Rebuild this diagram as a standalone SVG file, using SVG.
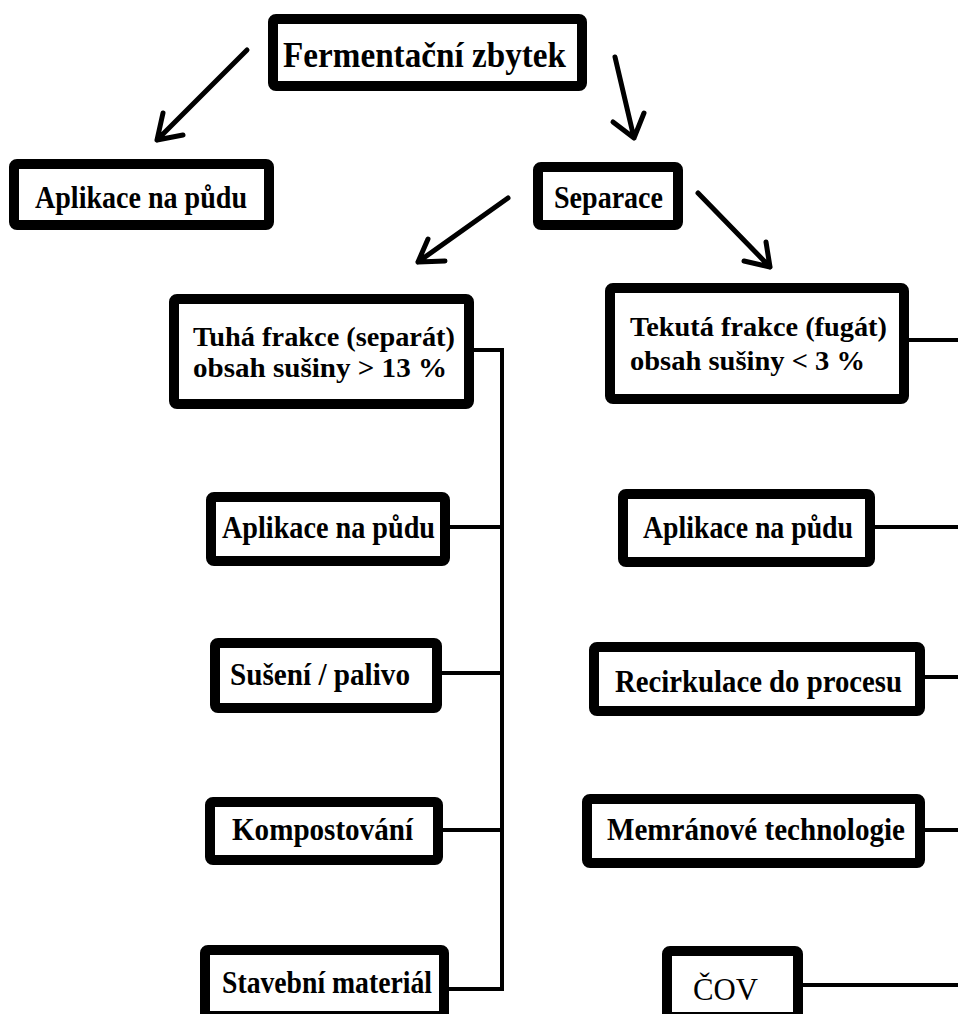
<svg xmlns="http://www.w3.org/2000/svg" width="958" height="1014" viewBox="0 0 958 1014">
<style>
.box{fill:#fff;stroke:#000;stroke-width:10;}
.t{font-family:"Liberation Serif","Times New Roman",serif;font-weight:bold;font-size:32px;fill:#000;}
.big{font-size:36px;}
.two{font-size:28px;}
.reg{font-weight:normal;font-size:32px;}
.arr{fill:none;stroke:#000;stroke-width:5;stroke-linecap:round;stroke-linejoin:round;}
.con{fill:none;stroke:#000;stroke-width:4;}
</style>
<rect width="958" height="1014" fill="#fff"/>
<g id="connectors">
<path class="arr" d="M247 50 L157 140 M163 113 L157 140 L183 135"/>
<path class="arr" d="M615 57 L634 138 M613 122 L634 138 L644 113"/>
<path class="arr" d="M508 198 L418 262 M428 239 L418 262 L445 261"/>
<path class="arr" d="M698 193 L770 267 M766 242 L770 267 L744 261"/>
<path class="con" d="M474 350 H502 V989 H449 M450 527 H502 M442 673 H502 M443 830 H502"/>
<path class="con" d="M909 340 H958 M875 527 H958 M925 677 H958 M925 830 H958 M803 985 H958"/>
</g>
<g id="n-fermentacni">
<rect class="box" x="273" y="19" width="309" height="67" rx="3"/>
<text class="t big" x="283" y="67" textLength="283" lengthAdjust="spacingAndGlyphs">Fermentační zbytek</text>
</g>
<g id="n-aplikace-top">
<rect class="box" x="14" y="164" width="255" height="61" rx="3"/>
<text class="t" x="35" y="208" textLength="212" lengthAdjust="spacingAndGlyphs">Aplikace na půdu</text>
</g>
<g id="n-separace">
<rect class="box" x="538" y="167" width="140" height="58" rx="3"/>
<text class="t" x="554" y="208" textLength="109" lengthAdjust="spacingAndGlyphs">Separace</text>
</g>
<g id="n-tuha">
<rect class="box" x="174" y="299" width="295" height="105" rx="3"/>
<text class="t two" x="193" y="346" textLength="262" lengthAdjust="spacingAndGlyphs">Tuhá frakce (separát)</text>
<text class="t two" x="193" y="377" textLength="254" lengthAdjust="spacingAndGlyphs">obsah sušiny &gt; 13 %</text>
</g>
<g id="n-tekuta">
<rect class="box" x="610" y="288" width="294" height="111" rx="3"/>
<text class="t two" x="630" y="336" textLength="257" lengthAdjust="spacingAndGlyphs">Tekutá frakce (fugát)</text>
<text class="t two" x="630" y="370" textLength="235" lengthAdjust="spacingAndGlyphs">obsah sušiny &lt; 3 %</text>
</g>
<g id="n-aplikace-l">
<rect class="box" x="211" y="497" width="234" height="64" rx="3"/>
<text class="t" x="222" y="538" textLength="213" lengthAdjust="spacingAndGlyphs">Aplikace na půdu</text>
</g>
<g id="n-aplikace-r">
<rect class="box" x="623" y="494" width="247" height="68" rx="3"/>
<text class="t" x="643" y="538" textLength="210" lengthAdjust="spacingAndGlyphs">Aplikace na půdu</text>
</g>
<g id="n-suseni">
<rect class="box" x="215" y="643" width="222" height="65" rx="3"/>
<text class="t" x="230" y="685" textLength="180" lengthAdjust="spacingAndGlyphs">Sušení / palivo</text>
</g>
<g id="n-recirkulace">
<rect class="box" x="594" y="647" width="326" height="64" rx="3"/>
<text class="t" x="615" y="692" textLength="287" lengthAdjust="spacingAndGlyphs">Recirkulace do procesu</text>
</g>
<g id="n-kompostovani">
<rect class="box" x="210" y="802" width="228" height="58" rx="3"/>
<text class="t" x="232" y="840" textLength="181" lengthAdjust="spacingAndGlyphs">Kompostování</text>
</g>
<g id="n-membranove">
<rect class="box" x="587" y="799" width="333" height="64" rx="3"/>
<text class="t" x="607" y="840" textLength="298" lengthAdjust="spacingAndGlyphs">Memránové technologie</text>
</g>
<g id="n-stavebni">
<rect class="box" x="205" y="950" width="239" height="66" rx="3"/>
<text class="t" x="222" y="993" textLength="210" lengthAdjust="spacingAndGlyphs">Stavební materiál</text>
</g>
<g id="n-cov">
<rect class="box" x="667" y="951" width="131" height="66" rx="3"/>
<text class="t reg" x="693" y="1000" textLength="65" lengthAdjust="spacingAndGlyphs">ČOV</text>
</g>
</svg>
